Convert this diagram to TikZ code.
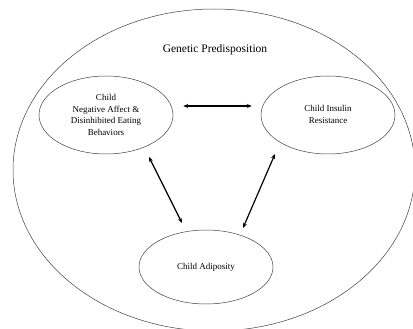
\documentclass[tikz,border=0pt]{standalone}
\usepackage{fontspec}
\setmainfont{Liberation Serif}
\usetikzlibrary{shapes.geometric,arrows.meta}
\begin{document}
\begin{tikzpicture}[x=1pt,y=-1pt,
  oval/.style={draw=black!75,line width=0.5pt,ellipse,minimum width=134pt,minimum height=78pt,inner sep=0pt,align=center,font=\fontsize{9}{11.5}\selectfont},
  biarrow/.style={line width=1.2pt,{Stealth[length=5pt,width=4pt]}-{Stealth[length=5pt,width=4pt]}}]
\useasboundingbox (0,0) rectangle (413,329);
\begin{scope}
\clip (0,0) rectangle (413,329);
\node[draw=black!75,line width=0.5pt,ellipse,minimum width=402pt,minimum height=322pt,inner sep=0pt] (G) at (214,170) {};
\end{scope}
\node[font=\fontsize{11.5}{13}\selectfont] (T) at (215,50) {Genetic Predisposition};
\node[oval] (L) at (106,115) {Child\\Negative Affect \&\\Disinhibited Eating\\Behaviors};
\node[oval] (R) at (328,115) {\raisebox{3pt}{\begin{tabular}{@{}c@{}}Child Insulin\\Resistance\end{tabular}}};
\node[oval,minimum height=74pt] (A) at (206,267) {Child Adiposity};
\coordinate (l1) at (149,157);
\coordinate (a1) at (182,223);
\coordinate (r1) at (275,154);
\coordinate (a2) at (243,228);
\draw[biarrow,shorten <=10pt,shorten >=9pt] ([yshift=9pt]L.east) -- ([yshift=9pt]R.west);
\draw[biarrow] (l1) -- (a1);
\draw[biarrow] (r1) -- (a2);
\end{tikzpicture}
\end{document}
